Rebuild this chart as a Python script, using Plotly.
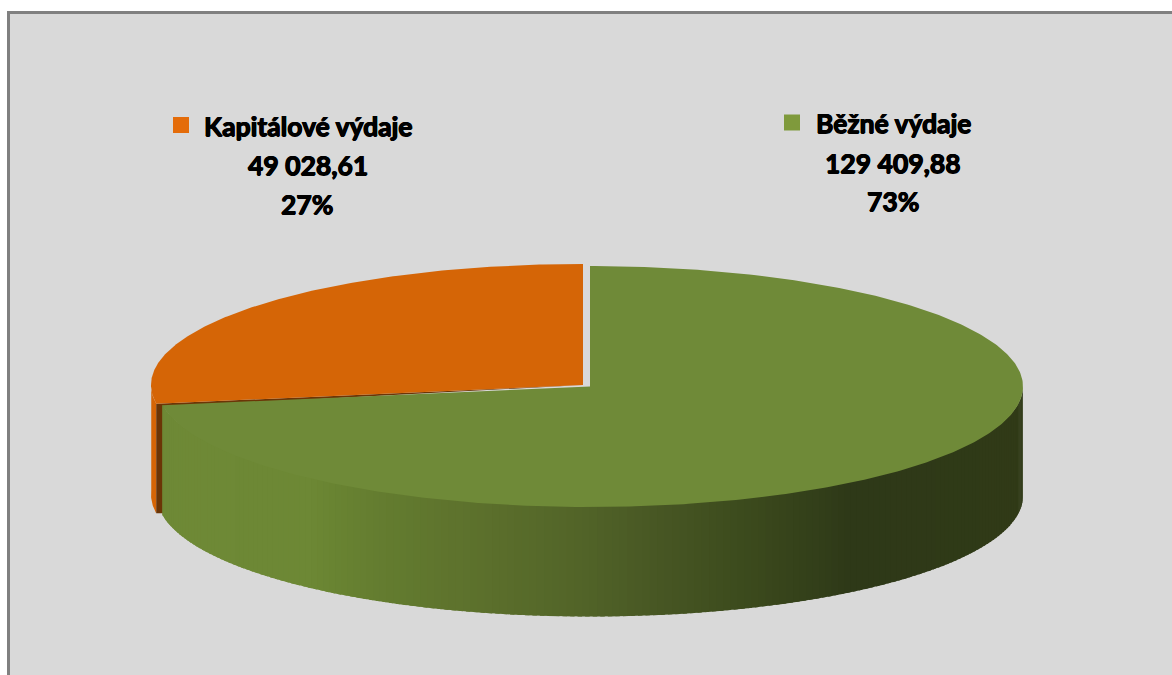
import numpy as np
import plotly.graph_objects as go

# ---- data ----
categories = ["Běžné výdaje", "Kapitálové výdaje"]
values = [129409.88, 49028.61]
value_labels = ["129 409,88", "49 028,61"]
percent_labels = ["73%", "27%"]

# ---- style / geometry ----
W, H = 1172, 675
BG, FRAME = "#d9d9d9", "#808080"
GREEN_TOP, ORANGE_TOP = "#6f8a38", "#d56506"
ORANGE_IN = "#6b3506"
GREEN_KEY, ORANGE_KEY = "#7f9a3c", "#e46c0a"
GREEN_C = (590.0, 386.5, 433.0, 120.5)
ORANGE_C = (583.0, 385.0, 432.0, 121.0)
DEPTH = 109.5
RAMP_X = [162, 310, 330, 400, 480, 580, 650, 760, 850, 1023]
RAMP_RGB = [(110, 137, 54), (109, 136, 53), (105, 132, 50), (98, 122, 47), (92, 112, 44),
            (82, 100, 40), (72, 88, 36), (58, 72, 28), (46, 57, 24), (48, 58, 23)]


def rim(c, deg):
    t = np.radians(deg)
    return c[0] + c[2] * np.sin(t), c[1] - c[3] * np.cos(t)


def arc(c, a, b, n=240):
    return rim(c, np.linspace(a, b, n))


total = sum(values)
split = 360.0 * values[0] / total

fig = go.Figure()


def poly(x, y, color):
    fig.add_trace(go.Scatter(x=list(x), y=list(y), mode="lines", fill="toself", fillcolor=color,
                             line=dict(width=0, color=color), hoverinfo="skip", showlegend=False))


# orange outer side: only the part left of the cut is visible
sx, sy = arc(ORANGE_C, split, 272, 40)
poly(np.r_[sx, sx[::-1]], np.r_[sy, (sy + DEPTH)[::-1]], ORANGE_TOP)
# orange cut face, mostly hidden behind the green slice
ex, ey = rim(ORANGE_C, split)
gex, gey = rim(GREEN_C, split)
poly([ex, ORANGE_C[0], gex + 2, gex + 2, ex],
     [ey, ORANGE_C[1], gey + 2, ey + DEPTH, ey + DEPTH], ORANGE_IN)
# orange top
ax, ay = arc(ORANGE_C, split, 360)
poly(np.r_[ORANGE_C[0], ax], np.r_[ORANGE_C[1], ay], ORANGE_TOP)

# green side, shaded strip by strip; each strip tucks under the top face to avoid a seam
edges = np.linspace(90, split, 172)
for a, b in zip(edges[:-1], edges[1:]):
    t = np.linspace(a, min(b + 0.6, split), 8)
    px, py = rim(GREEN_C, t)
    tuck = 3 * np.abs(np.cos(np.radians(t)))
    xm = rim(GREEN_C, (a + b) / 2)[0]
    rgb = [int(round(np.interp(xm, RAMP_X, [r[i] for r in RAMP_RGB]))) for i in range(3)]
    poly(np.r_[px, px[::-1]], np.r_[py - tuck, (py + DEPTH)[::-1]], "rgb(%d,%d,%d)" % tuple(rgb))

# green top
gx, gy = arc(GREEN_C, 0, split, 400)
poly(np.r_[GREEN_C[0], gx], np.r_[GREEN_C[1], gy], GREEN_TOP)

# legend keys
fig.add_trace(go.Scatter(x=[181], y=[125], mode="markers", hoverinfo="skip", showlegend=False,
                         marker=dict(symbol="square", size=16, color=ORANGE_KEY)))
fig.add_trace(go.Scatter(x=[792], y=[122.5], mode="markers", hoverinfo="skip", showlegend=False,
                         marker=dict(symbol="square", size=16, color=GREEN_KEY)))

FONT = dict(family="Lato, Carlito, sans-serif", size=26.5, color="#000000", weight=700,
            shadow="0.6px 0 0.6px #000, -0.6px 0 0.6px #000, 0 0.5px 0.6px #000")
labels = [
    (categories[1], 308, 126), (value_labels[1], 308, 165), (percent_labels[1], 307, 204),
    (categories[0], 893, 123), (value_labels[0], 893, 163), (percent_labels[0], 893, 201),
]
annotations = [dict(x=x, y=y, text=t, showarrow=False, xanchor="center", yanchor="middle", font=FONT)
               for t, x, y in labels]

fig.update_layout(
    width=W, height=H, margin=dict(l=0, r=0, t=0, b=0), paper_bgcolor="#ffffff", plot_bgcolor="#ffffff",
    showlegend=False, annotations=annotations,
    xaxis=dict(range=[0, W], visible=False, fixedrange=True),
    yaxis=dict(range=[H, 0], visible=False, fixedrange=True),
    shapes=[
        dict(type="rect", x0=8.5, x1=W + 5, y0=12.5, y1=H + 5, layer="below",
             fillcolor=BG, line=dict(color=FRAME, width=3)),
    ],
)
fig.write_html("out.html", config={"displayModeBar": False},
               post_script="document.body.style.margin='0';document.body.style.overflow='hidden';")
